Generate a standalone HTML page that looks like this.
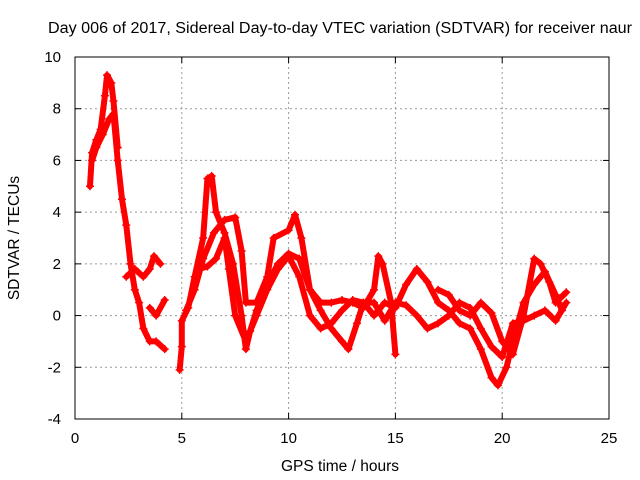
<!DOCTYPE html>
<html><head><meta charset="utf-8"><style>
body{margin:0;background:#fff}
svg{display:block;font-family:"Liberation Sans",sans-serif;font-size:15px}
</style></head><body>
<svg id="chart" width="640" height="480">
<text x="340" y="33" text-anchor="middle" font-size="15.5" textLength="584" lengthAdjust="spacingAndGlyphs">Day 006 of 2017, Sidereal Day-to-day VTEC variation (SDTVAR) for receiver naur</text>
<text x="340" y="471" text-anchor="middle" font-size="15.5">GPS time / hours</text>
<text transform="translate(19,238) rotate(-90)" text-anchor="middle" font-size="15.5">SDTVAR / TECUs</text>
<g id="grid"></g><g id="series"></g>
<rect x="75" y="57" width="534" height="362" fill="none" stroke="#000"/>
</svg>
<script>
const xTicks=[0,5,10,15,20,25];
const yTicks=[-4,-2,0,2,4,6,8,10];
const track1=[[0.7,5.0],[0.8,6.3],[1.0,6.8],[1.2,7.2],[1.4,8.5],[1.5,9.3],[1.7,9.0],[1.8,8.3],[2.0,6.5]];
const track2=[[0.8,6.0],[1.0,6.5],[1.3,7.0],[1.6,7.6],[1.8,7.8],[2.0,6.0],[2.2,4.5],[2.4,3.5],[2.6,2.0],[2.8,1.0],[3.0,0.5],[3.2,-0.5],[3.5,-1.0],[3.8,-1.0],[4.2,-1.3]];
const track3=[[2.4,1.5],[2.8,1.8],[3.2,1.5],[3.5,1.8],[3.7,2.3],[4.0,2.0]];
const track4=[[3.5,0.3],[3.8,0.0],[4.2,0.6]];
const track5=[[4.9,-2.1],[5.0,-1.2],[5.0,-0.2],[5.3,0.3],[5.6,1.5],[6.0,3.0],[6.2,5.3],[6.4,5.4],[6.6,4.0],[7.0,3.2],[7.4,2.0],[7.8,0.0],[8.0,-1.3],[8.2,-0.6],[8.5,0.2],[9.0,1.2],[9.5,2.0],[10.0,2.4],[10.5,2.2],[11,1.0],[11.5,0.5],[12,0.5],[12.5,0.6],[13,0.5],[13.5,0.3],[14,1.0],[14.2,2.3],[14.4,2.0],[14.8,0.5],[15,-1.5]];
const track6=[[5.2,0.2],[5.6,1.0],[6.0,2.2],[6.5,3.2],[7.0,3.7],[7.5,3.8],[7.8,2.5],[8.0,0.5],[8.5,0.5],[9.0,1.5],[9.3,3.0],[10,3.3],[10.3,3.9],[10.6,3.0],[11,1.0],[11.5,0.2],[12,-0.5],[12.5,-1.0],[12.8,-1.3],[13.2,-0.3],[13.5,0.5],[14,0],[14.5,0.5],[15,0.3],[15.5,1.2],[16,1.8],[16.5,1.3],[17,0.5],[17.5,0.2],[18,-0.3],[18.5,-0.5],[19,-1.3],[19.5,-2.4],[19.8,-2.7],[20.2,-2.0],[20.5,-1.0],[21,0.5],[21.5,1.2],[22,1.7],[22.5,0.8],[22.8,0.2]];
const track7=[[5.8,1.8],[6.2,1.9],[6.6,2.2],[7.0,3.0],[7.2,1.8],[7.5,0.0],[8,-1.0],[8.5,0],[9,1],[9.5,1.8],[10,2.3],[10.5,1.5],[11,0],[11.5,-0.5],[12,-0.3],[12.5,0.2],[13,0.6],[13.5,0.5],[14,0.5],[14.5,-0.2],[15,0.5],[15.5,0.4],[16,0],[16.5,-0.5],[17,-0.3],[17.5,0],[18,0.5],[18.5,0.3],[19,-0.5],[19.5,-1.2],[20,-1.6],[20.5,-0.3],[21,-0.2],[21.5,0.0],[22,0.2],[22.5,-0.2],[23,0.5]];
const track8=[[17,1.0],[17.5,0.8],[18,0.2],[18.5,0],[19,0.5],[19.5,0.1],[20,-1.0],[20.5,-1.5],[21,0],[21.5,2.2],[21.8,2.0],[22.2,1.3],[22.5,0.5],[23,0.9]];
const tracks=[track1,track2,track3,track4,track5,track6,track7,track8];
const NS="http://www.w3.org/2000/svg";
const X=v=>75+v*534/25, Y=v=>419-(v+4)*362/14;
const grid=document.getElementById('grid'), ser=document.getElementById('series');
function mk(tag,attrs,parent){const e=document.createElementNS(NS,tag);for(const k in attrs)e.setAttribute(k,attrs[k]);parent.appendChild(e);return e;}
xTicks.forEach(t=>{
  if(t>0&&t<25){const l=mk('line',{x1:X(t),x2:X(t),y1:57,y2:419,stroke:'#999','stroke-dasharray':'2,3'},grid);
  
  }
  mk('line',{x1:X(t),x2:X(t),y1:419,y2:413,stroke:'#000'},grid);
  mk('line',{x1:X(t),x2:X(t),y1:57,y2:63,stroke:'#000'},grid);
  const tx=mk('text',{x:X(t),y:443,'text-anchor':'middle'},grid);tx.textContent=t;
  
  
});
yTicks.forEach(t=>{
  if(t>-4&&t<10){const l=mk('line',{x1:75,x2:609,y1:Y(t),y2:Y(t),stroke:'#999','stroke-dasharray':'2,3'},grid);
  
  }
  mk('line',{x1:75,x2:81,y1:Y(t),y2:Y(t),stroke:'#000'},grid);
  mk('line',{x1:609,x2:603,y1:Y(t),y2:Y(t),stroke:'#000'},grid);
  const tx=mk('text',{x:61,y:Y(t)+5,'text-anchor':'end'},grid);tx.textContent=t;
  
  
});
tracks.forEach((tr,i)=>{
  const p=mk('polyline',{points:tr.map(d=>X(d[0])+','+Y(d[1])).join(' '),fill:'none',stroke:'#f00','stroke-width':6,'stroke-linejoin':'round','stroke-linecap':'round'},ser);
  
  
  tr.forEach(d=>{
    const c=mk('path',{d:`M${X(d[0])-4},${Y(d[1])}h8M${X(d[0])},${Y(d[1])-4}v8`,stroke:'#f00','stroke-width':1.5},ser);
    
    
  });
});
</script>
</body></html>
